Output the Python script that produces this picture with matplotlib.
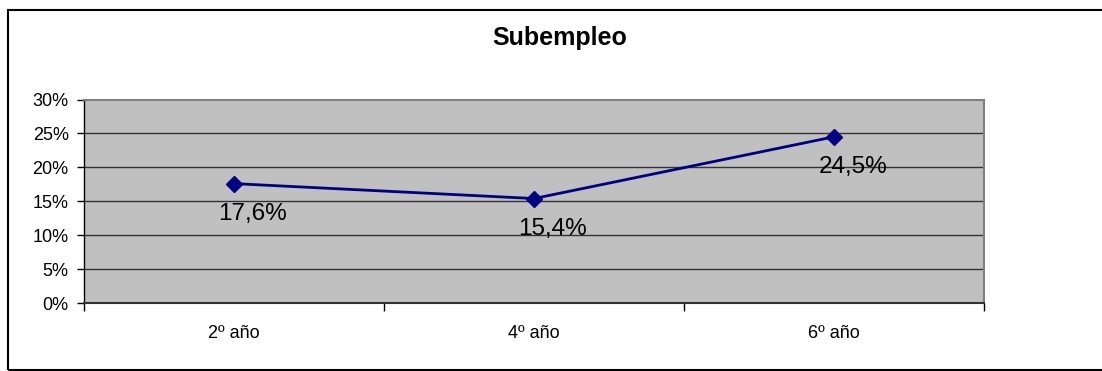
import matplotlib
matplotlib.use("Agg")
import matplotlib.pyplot as plt
from matplotlib.patches import Rectangle
from matplotlib.ticker import FixedLocator, FuncFormatter
from matplotlib.transforms import offset_copy

categories = ["2º año", "4º año", "6º año"]
values = [17.6, 15.4, 24.5]
labels = ["17,6%", "15,4%", "24,5%"]
yticks = [0, 5, 10, 15, 20, 25, 30]
title = "Subempleo"

plt.rcParams['font.family'] = ['Liberation Sans', 'DejaVu Sans']

W, H = 1102, 371
fig = plt.figure(figsize=(W / 100, H / 100), dpi=100)
fig.patch.set_facecolor('white')

# outer border
fig.patches.append(Rectangle((8 / W, 1 - 370 / H), (1110 - 8) / W, (370 - 10) / H,
                             transform=fig.transFigure, fill=False,
                             edgecolor='black', linewidth=1.5))

left, right, top, bottom = 84, 984, 99.5, 303
ax = fig.add_axes([left / W, 1 - bottom / H, (right - left) / W, (bottom - top) / H])
ax.set_facecolor('#C0C0C0')

x = list(range(len(categories)))
ax.set_xlim(-0.5, len(categories) - 0.5)
ax.set_ylim(0, 30)

for yv in yticks[1:-1]:
    ax.axhline(yv, color='#333333', linewidth=1.0, zorder=1)

ax.plot(x, values, color='#000080', linewidth=2, marker='D', markersize=8,
        markerfacecolor='#000080', markeredgecolor='#000080', zorder=3)

for xi, yi, lab in zip(x, values, labels):
    tr = offset_copy(ax.transData, fig=fig, x=19, y=-19, units='dots')
    ax.text(xi, yi, lab, transform=tr, ha='center', va='top', fontsize=17.5, color='black', zorder=4)

ax.yaxis.set_major_locator(FixedLocator(yticks))
ax.yaxis.set_major_formatter(FuncFormatter(lambda v, p: f"{int(v)}%"))
ax.tick_params(axis='y', direction='out', length=5, width=1, labelsize=13, pad=6, color='black')

ax.set_xticks([i - 0.5 for i in range(len(categories) + 1)])
ax.set_xticklabels([])
ax.set_xticks(x, minor=True)
ax.set_xticklabels(categories, minor=True)
ax.tick_params(axis='x', which='major', direction='out', length=6, width=1, color='black')
ax.tick_params(axis='x', which='minor', length=0, labelsize=13, pad=16)

for s in ['top', 'right']:
    ax.spines[s].set_color('#808080')
    ax.spines[s].set_linewidth(1.5)
ax.spines['left'].set_color('black')
ax.spines['bottom'].set_color('#333333')
ax.spines['left'].set_linewidth(1)
ax.spines['bottom'].set_linewidth(1.5)

fig.text(560 / W, 1 - 38 / H, title, ha='center', va='center', fontsize=18, fontweight='bold')

fig.savefig('out.png', dpi=100, facecolor='white')
